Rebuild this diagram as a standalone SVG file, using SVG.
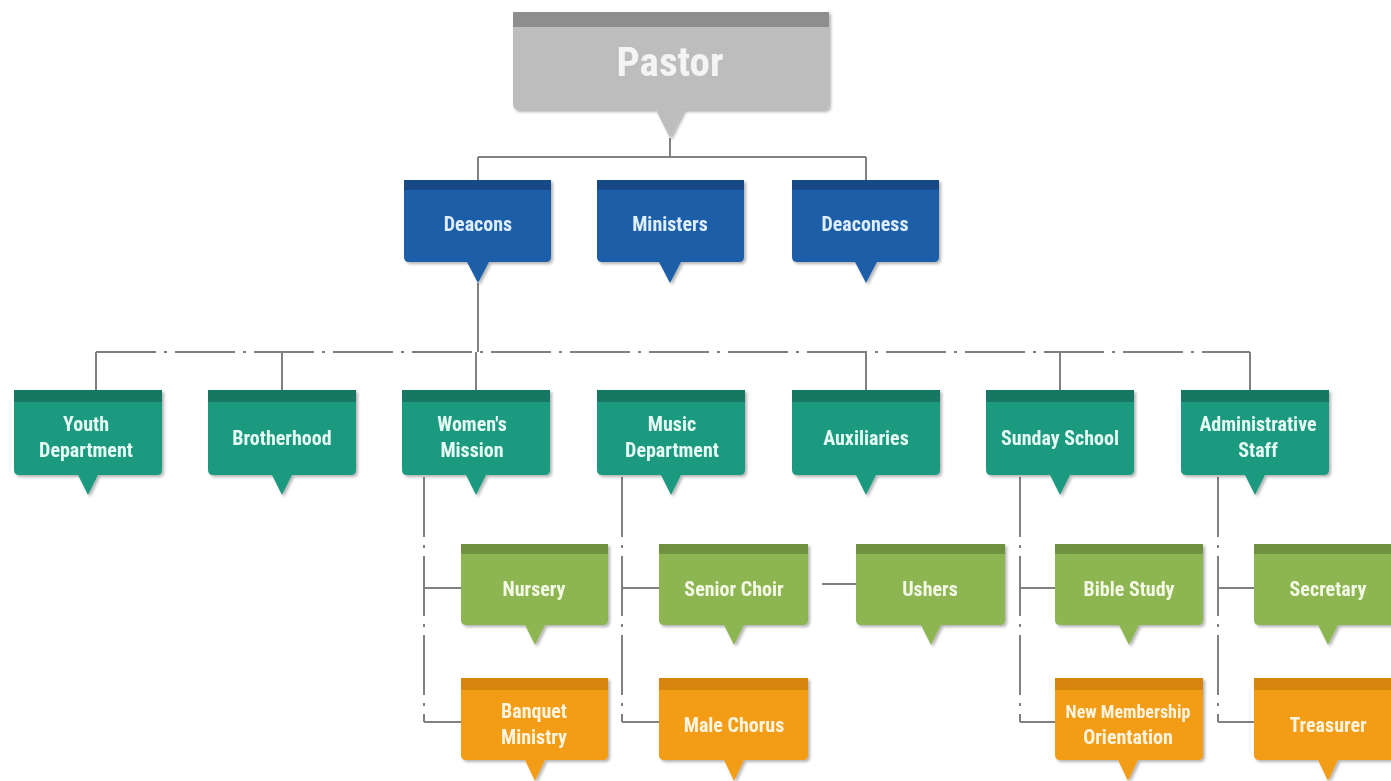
<svg xmlns="http://www.w3.org/2000/svg" width="1391" height="781" viewBox="0 0 1391 781">
<defs>
<filter id="sh" x="-10%" y="-10%" width="130%" height="140%">
<feDropShadow dx="2" dy="2" stdDeviation="1.5" flood-color="#000" flood-opacity="0.3"/>
</filter>
<style>
text{font-family:"Liberation Sans Narrow","Roboto Condensed","Liberation Sans",sans-serif;font-weight:bold;text-anchor:middle;dominant-baseline:central;font-size:20px}
.pastor .b{fill:#BDBDBD}.pastor .t{fill:#8E8E8E}.pastor text{fill:#F4F4F4;font-size:41px}
.blue .b{fill:#1F5EA8}.blue .t{fill:#184A86}.blue text{fill:#DDEEFF}
.teal .b{fill:#1E9A80}.teal .t{fill:#177862}.teal text{fill:#E4FAF2}
.green .b{fill:#8DB653}.green .t{fill:#6F9240}.green text{fill:#F4F9E6}
.orange .b{fill:#F39C16}.orange .t{fill:#D8850E}.orange text{fill:#FFF4E0}
.node{filter:url(#sh)}
.c{fill:none;stroke:#808080;stroke-width:2}
.d{stroke-dasharray:60 8 3 8}
.sm{font-size:18px}
</style>
</defs>
<g id="connectors">
<path class="c" d="M670 138V157M478 157H866M478 157V180M866 157V180"/>
<path class="c" d="M478 283V352"/>
<path class="c d" d="M96 352H1250M96 352V390M282 352V390M476 352V390M866 352V390M1060 352V390M1250 352V390"/>
<path class="c d" d="M424 477V722M424 588H461M424 722H461"/>
<path class="c d" d="M622 477V722M622 588H659M622 722H659"/>
<path class="c d" d="M822 584H856"/>
<path class="c d" d="M1020 477V722M1020 588H1055M1020 722H1055"/>
<path class="c d" d="M1218 477V722M1218 588H1254M1218 722H1254"/>
</g>
<g id="pastor" class="node pastor">
<path class="b" d="M513 12H829V104Q829 110 823 110H684L670 138L656 110H519Q513 110 513 104Z"/>
<rect class="t" x="513" y="12" width="316" height="15"/>
<text x="670" y="62">Pastor</text>
</g>
<g id="deacons" class="node blue">
<path class="b" d="M404 180H551V257Q551 262 546 262H489L478 283L467 262H409Q404 262 404 257Z"/>
<rect class="t" x="404" y="180" width="147" height="10"/>
<text x="478" y="224">Deacons</text>
</g>
<g id="ministers" class="node blue">
<path class="b" d="M597 180H744V257Q744 262 739 262H681L670 283L659 262H602Q597 262 597 257Z"/>
<rect class="t" x="597" y="180" width="147" height="10"/>
<text x="670" y="224">Ministers</text>
</g>
<g id="deaconess" class="node blue">
<path class="b" d="M792 180H939V257Q939 262 934 262H877L866 283L855 262H797Q792 262 792 257Z"/>
<rect class="t" x="792" y="180" width="147" height="10"/>
<text x="865" y="224">Deaconess</text>
</g>
<g id="youth" class="node teal">
<path class="b" d="M14 390H162V470Q162 475 157 475H98L88 495L78 475H19Q14 475 14 470Z"/>
<rect class="t" x="14" y="390" width="148" height="12"/>
<text x="86" y="424">Youth</text><text x="86" y="450">Department</text>
</g>
<g id="brotherhood" class="node teal">
<path class="b" d="M208 390H356V470Q356 475 351 475H292L282 495L272 475H213Q208 475 208 470Z"/>
<rect class="t" x="208" y="390" width="148" height="12"/>
<text x="282" y="438">Brotherhood</text>
</g>
<g id="womens" class="node teal">
<path class="b" d="M402 390H550V470Q550 475 545 475H486L476 495L466 475H407Q402 475 402 470Z"/>
<rect class="t" x="402" y="390" width="148" height="12"/>
<text x="472" y="424">Women's</text><text x="472" y="450">Mission</text>
</g>
<g id="music" class="node teal">
<path class="b" d="M597 390H745V470Q745 475 740 475H681L671 495L661 475H602Q597 475 597 470Z"/>
<rect class="t" x="597" y="390" width="148" height="12"/>
<text x="672" y="424">Music</text><text x="672" y="450">Department</text>
</g>
<g id="auxiliaries" class="node teal">
<path class="b" d="M792 390H940V470Q940 475 935 475H876L866 495L856 475H797Q792 475 792 470Z"/>
<rect class="t" x="792" y="390" width="148" height="12"/>
<text x="866" y="438">Auxiliaries</text>
</g>
<g id="sunday" class="node teal">
<path class="b" d="M986 390H1134V470Q1134 475 1129 475H1070L1060 495L1050 475H991Q986 475 986 470Z"/>
<rect class="t" x="986" y="390" width="148" height="12"/>
<text x="1060" y="438">Sunday School</text>
</g>
<g id="admin" class="node teal">
<path class="b" d="M1181 390H1329V470Q1329 475 1324 475H1265L1255 495L1245 475H1186Q1181 475 1181 470Z"/>
<rect class="t" x="1181" y="390" width="148" height="12"/>
<text x="1258" y="424">Administrative</text><text x="1258" y="450">Staff</text>
</g>
<g id="nursery" class="node green">
<path class="b" d="M461 544H608V620Q608 625 603 625H545L535 645L525 625H466Q461 625 461 620Z"/>
<rect class="t" x="461" y="544" width="147" height="10"/>
<text x="534" y="589">Nursery</text>
</g>
<g id="senior-choir" class="node green">
<path class="b" d="M659 544H808V620Q808 625 803 625H744L734 645L724 625H664Q659 625 659 620Z"/>
<rect class="t" x="659" y="544" width="149" height="10"/>
<text x="734" y="589">Senior Choir</text>
</g>
<g id="ushers" class="node green">
<path class="b" d="M856 544H1005V620Q1005 625 1000 625H941L931 645L921 625H861Q856 625 856 620Z"/>
<rect class="t" x="856" y="544" width="149" height="10"/>
<text x="930" y="589">Ushers</text>
</g>
<g id="bible-study" class="node green">
<path class="b" d="M1055 544H1203V620Q1203 625 1198 625H1139L1129 645L1119 625H1060Q1055 625 1055 620Z"/>
<rect class="t" x="1055" y="544" width="148" height="10"/>
<text x="1129" y="589">Bible Study</text>
</g>
<g id="secretary" class="node green">
<path class="b" d="M1254 544H1404V620Q1404 625 1399 625H1338L1328 645L1318 625H1259Q1254 625 1254 620Z"/>
<rect class="t" x="1254" y="544" width="150" height="10"/>
<text x="1328" y="589">Secretary</text>
</g>
<g id="banquet" class="node orange">
<path class="b" d="M461 678H608V755Q608 760 603 760H545L535 781L525 760H466Q461 760 461 755Z"/>
<rect class="t" x="461" y="678" width="147" height="12"/>
<text x="534" y="711">Banquet</text><text x="534" y="737">Ministry</text>
</g>
<g id="male-chorus" class="node orange">
<path class="b" d="M659 678H808V755Q808 760 803 760H744L734 781L724 760H664Q659 760 659 755Z"/>
<rect class="t" x="659" y="678" width="149" height="12"/>
<text x="734" y="725">Male Chorus</text>
</g>
<g id="new-membership" class="node orange">
<path class="b" d="M1055 678H1203V755Q1203 760 1198 760H1138L1128 781L1118 760H1060Q1055 760 1055 755Z"/>
<rect class="t" x="1055" y="678" width="148" height="12"/>
<text class="sm" x="1128" y="711">New Membership</text><text x="1128" y="737">Orientation</text>
</g>
<g id="treasurer" class="node orange">
<path class="b" d="M1254 678H1404V755Q1404 760 1399 760H1338L1328 781L1318 760H1259Q1254 760 1254 755Z"/>
<rect class="t" x="1254" y="678" width="150" height="12"/>
<text x="1328" y="725">Treasurer</text>
</g>
</svg>
